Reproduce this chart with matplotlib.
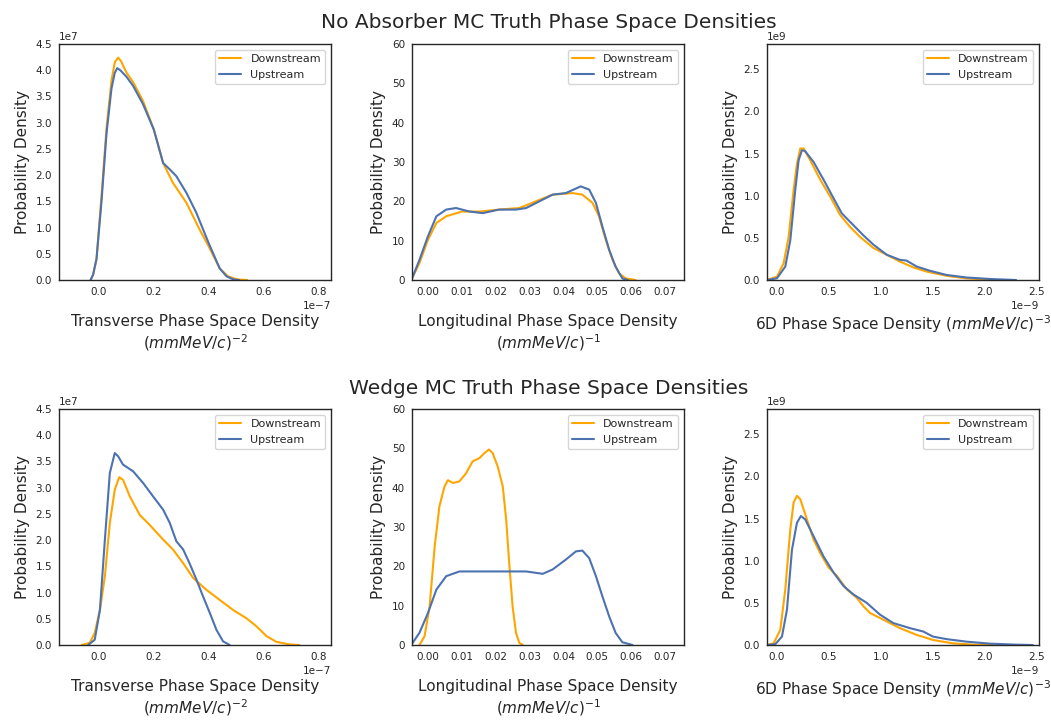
import matplotlib
matplotlib.use("Agg")
import matplotlib.pyplot as plt
import seaborn as sns
import numpy as np

sns.set_style("white")
plt.rcParams['font.family'] = ['DejaVu Sans']

# ---------------- data ----------------
# Row 1: No Absorber ; Row 2: Wedge
# Transverse (x in 1e-7, y in 1e7)
na_tr_down_x = [-0.03, -0.021, -0.0085, 0.0097, 0.028, 0.046, 0.058, 0.070, 0.08, 0.10, 0.125, 0.161, 0.20, 0.234, 0.27, 0.319, 0.367, 0.40, 0.44, 0.47, 0.505, 0.54]
na_tr_down_y = [0.0, 0.1, 0.4, 1.6, 2.9, 3.8, 4.15, 4.24, 4.18, 3.96, 3.77, 3.41, 2.87, 2.23, 1.85, 1.47, 0.96, 0.64, 0.22, 0.07, 0.01, 0.0]
na_tr_up_x = [-0.03, -0.021, -0.0085, 0.0097, 0.028, 0.046, 0.058, 0.067, 0.078, 0.10, 0.125, 0.161, 0.20, 0.234, 0.258, 0.282, 0.319, 0.355, 0.40, 0.44, 0.465, 0.49, 0.51]
na_tr_up_y = [0.0, 0.1, 0.4, 1.5, 2.8, 3.65, 3.95, 4.04, 4.0, 3.88, 3.70, 3.35, 2.87, 2.23, 2.11, 1.98, 1.66, 1.28, 0.70, 0.22, 0.07, 0.01, 0.0]

wd_tr_down_x = [-0.063, -0.033, -0.015, 0.004, 0.022, 0.04, 0.058, 0.074, 0.088, 0.113, 0.149, 0.185, 0.234, 0.27, 0.307, 0.343, 0.392, 0.44, 0.488, 0.537, 0.573, 0.61, 0.646, 0.695, 0.73]
wd_tr_down_y = [0.0, 0.04, 0.23, 0.67, 1.31, 2.33, 2.96, 3.20, 3.15, 2.83, 2.48, 2.29, 2.01, 1.82, 1.56, 1.28, 1.05, 0.86, 0.67, 0.51, 0.36, 0.17, 0.06, 0.01, 0.0]
wd_tr_up_x = [-0.039, -0.015, 0.004, 0.022, 0.04, 0.058, 0.07, 0.088, 0.125, 0.161, 0.198, 0.234, 0.258, 0.282, 0.307, 0.33, 0.355, 0.379, 0.404, 0.428, 0.452, 0.476]
wd_tr_up_y = [0.0, 0.1, 0.67, 2.01, 3.28, 3.66, 3.60, 3.44, 3.31, 3.09, 2.83, 2.58, 2.33, 1.98, 1.82, 1.56, 1.25, 0.93, 0.61, 0.29, 0.07, 0.0]

# Longitudinal (x raw, y raw)
na_lo_down_x = [-0.0047, -0.0025, 0.0, 0.0025, 0.0054, 0.01, 0.0152, 0.021, 0.027, 0.0319, 0.0368, 0.0427, 0.0456, 0.0486, 0.0505, 0.0525, 0.0545, 0.0564, 0.0584, 0.0613]
na_lo_down_y = [0.4, 4.3, 10.2, 14.5, 16.2, 17.4, 17.4, 17.9, 18.3, 20.0, 21.7, 22.1, 21.7, 19.6, 16.2, 10.2, 5.1, 1.7, 0.4, 0.0]
na_lo_up_x = [-0.0047, -0.0025, 0.0, 0.0025, 0.0054, 0.0083, 0.0123, 0.0162, 0.021, 0.026, 0.029, 0.0329, 0.0368, 0.0407, 0.0451, 0.0476, 0.0496, 0.0515, 0.0535, 0.0554, 0.0574, 0.059]
na_lo_up_y = [0.4, 5.1, 11.1, 16.2, 17.9, 18.3, 17.4, 17.0, 17.9, 17.9, 18.3, 20.0, 21.7, 22.1, 23.8, 23.0, 19.6, 13.6, 7.7, 3.4, 0.4, 0.0]

wd_lo_down_x = [-0.0025, -0.001, 0.0005, 0.002, 0.0034, 0.0049, 0.0059, 0.0074, 0.0093, 0.0113, 0.0132, 0.0152, 0.0167, 0.018, 0.0191, 0.0206, 0.0221, 0.0231, 0.024, 0.025, 0.026, 0.027, 0.028]
wd_lo_down_y = [0.0, 2.2, 9.8, 25.1, 35.3, 40.3, 41.9, 41.2, 41.6, 43.7, 46.7, 47.5, 48.8, 49.7, 48.8, 45.4, 40.3, 31.9, 20.8, 9.8, 3.1, 0.5, 0.0]
wd_lo_up_x = [-0.0047, -0.0025, 0.0, 0.0025, 0.0054, 0.0093, 0.0142, 0.0191, 0.024, 0.029, 0.0339, 0.0368, 0.0407, 0.0437, 0.0456, 0.0476, 0.0496, 0.0515, 0.0535, 0.0554, 0.0574, 0.0604]
wd_lo_up_y = [0.3, 3.1, 8.1, 14.1, 17.5, 18.7, 18.7, 18.7, 18.7, 18.7, 18.1, 19.2, 21.7, 23.8, 24.0, 22.1, 17.5, 12.4, 7.3, 3.1, 0.7, 0.0]

# 6D (x in 1e-9, y in 1e9)
na_6d_down_x = [-0.096, 0.0, 0.064, 0.112, 0.16, 0.192, 0.224, 0.256, 0.32, 0.416, 0.512, 0.608, 0.703, 0.8, 0.927, 1.055, 1.18, 1.31, 1.44, 1.63, 1.82, 2.08]
na_6d_down_y = [0.0, 0.04, 0.2, 0.51, 1.07, 1.38, 1.56, 1.56, 1.42, 1.19, 0.99, 0.77, 0.63, 0.51, 0.38, 0.30, 0.22, 0.15, 0.10, 0.05, 0.02, 0.0]
na_6d_up_x = [-0.096, 0.0, 0.08, 0.128, 0.176, 0.208, 0.24, 0.27, 0.352, 0.448, 0.544, 0.624, 0.735, 0.831, 0.927, 1.055, 1.18, 1.246, 1.343, 1.47, 1.63, 1.82, 2.08, 2.3]
na_6d_up_y = [0.0, 0.02, 0.16, 0.47, 1.07, 1.42, 1.54, 1.53, 1.40, 1.19, 0.97, 0.79, 0.65, 0.53, 0.42, 0.30, 0.24, 0.23, 0.16, 0.11, 0.06, 0.03, 0.01, 0.0]

wd_6d_down_x = [-0.096, -0.032, 0.032, 0.08, 0.128, 0.16, 0.192, 0.224, 0.288, 0.352, 0.416, 0.496, 0.576, 0.671, 0.767, 0.831, 0.895, 1.023, 1.183, 1.343, 1.5, 1.69, 1.89, 2.08]
wd_6d_down_y = [0.0, 0.02, 0.18, 0.66, 1.37, 1.69, 1.77, 1.73, 1.49, 1.25, 1.09, 0.92, 0.82, 0.66, 0.56, 0.46, 0.38, 0.30, 0.20, 0.12, 0.06, 0.02, 0.004, 0.0]
wd_6d_up_x = [-0.096, -0.016, 0.048, 0.096, 0.144, 0.192, 0.23, 0.272, 0.352, 0.448, 0.544, 0.64, 0.735, 0.863, 0.991, 1.119, 1.279, 1.407, 1.5, 1.63, 1.82, 2.05, 2.3, 2.46]
wd_6d_up_y = [0.0, 0.01, 0.10, 0.42, 1.13, 1.45, 1.53, 1.49, 1.29, 1.05, 0.86, 0.70, 0.60, 0.50, 0.36, 0.26, 0.20, 0.16, 0.10, 0.07, 0.04, 0.016, 0.004, 0.0]

row_titles = ["No Absorber MC Truth Phase Space Densities", "Wedge MC Truth Phase Space Densities"]
xlabels = ["Transverse Phase Space Density\n$(mmMeV/c)^{-2}$",
           "Longitudinal Phase Space Density\n$(mmMeV/c)^{-1}$",
           "6D Phase Space Density $(mmMeV/c)^{-3}$"]
tr_xticks = [0.0, 0.2, 0.4, 0.6, 0.8]
tr_yticks = [0.0, 0.5, 1.0, 1.5, 2.0, 2.5, 3.0, 3.5, 4.0, 4.5]
lo_xticks = [0.00, 0.01, 0.02, 0.03, 0.04, 0.05, 0.06, 0.07]
lo_yticks = [0, 10, 20, 30, 40, 50, 60]
d6_xticks = [0.0, 0.5, 1.0, 1.5, 2.0, 2.5]
d6_yticks = [0.0, 0.5, 1.0, 1.5, 2.0, 2.5]

DOWN_C = "#FFA500"
UP_C = "#4C72B0"

rows = [
    [(na_tr_down_x, na_tr_down_y, na_tr_up_x, na_tr_up_y),
     (na_lo_down_x, na_lo_down_y, na_lo_up_x, na_lo_up_y),
     (na_6d_down_x, na_6d_down_y, na_6d_up_x, na_6d_up_y)],
    [(wd_tr_down_x, wd_tr_down_y, wd_tr_up_x, wd_tr_up_y),
     (wd_lo_down_x, wd_lo_down_y, wd_lo_up_x, wd_lo_up_y),
     (wd_6d_down_x, wd_6d_down_y, wd_6d_up_x, wd_6d_up_y)],
]
# exponents per column (x, y)
exps = [(-7, 7), (0, 0), (-9, 9)]
xlims = [(-0.145, 0.845), (-0.0047, 0.0756), (-0.096, 2.52)]
ylims = [(0, 4.5), (0, 60), (0, 2.8)]
xticks = [tr_xticks, lo_xticks, d6_xticks]
yticks = [tr_yticks, lo_yticks, d6_yticks]

fig = plt.figure(figsize=(10.51, 7.2), dpi=100)
W, H = 1051.0, 720.0
lefts = [59, 412, 767]
tops = [44, 409]
aw, ah = 272, 236
title_y = [22, 388]

for r in range(2):
    for c in range(3):
        ax = fig.add_axes([lefts[c] / W, 1 - (tops[r] + ah) / H, aw / W, ah / H])
        dx, dy, ux, uy = rows[r][c]
        ex, ey = exps[c]
        sx, sy = 10.0 ** ex, 10.0 ** ey
        ax.plot(np.array(dx) * sx, np.array(dy) * sy, color=DOWN_C, lw=1.5, label="Downstream")
        ax.plot(np.array(ux) * sx, np.array(uy) * sy, color=UP_C, lw=1.5, label="Upstream")
        ax.set_xlim(xlims[c][0] * sx, xlims[c][1] * sx)
        ax.set_ylim(ylims[c][0] * sy, ylims[c][1] * sy)
        ax.set_xticks(np.array(xticks[c]) * sx)
        ax.set_yticks(np.array(yticks[c]) * sy)
        if ex != 0:
            ax.ticklabel_format(axis='x', style='sci', scilimits=(ex, ex))
            ax.ticklabel_format(axis='y', style='sci', scilimits=(ey, ey))
        ax.tick_params(labelsize=7.5, colors=".15", length=0, pad=5)
        ax.xaxis.get_offset_text().set_fontsize(7.5)
        ax.yaxis.get_offset_text().set_fontsize(7.5)
        for s in ax.spines.values():
            s.set_color(".15")
            s.set_linewidth(1.0)
        ax.set_ylabel("Probability Density", fontsize=11, color=".15")
        ax.set_xlabel(xlabels[c], fontsize=11, color=".15", labelpad=12)
        ax.legend(loc="upper right", fontsize=8, frameon=True)
    fig.text(549 / W, 1 - title_y[r] / H, row_titles[r], fontsize=14.5, color=".15",
             ha="center", va="center")

fig.savefig("out.png", dpi=100)
